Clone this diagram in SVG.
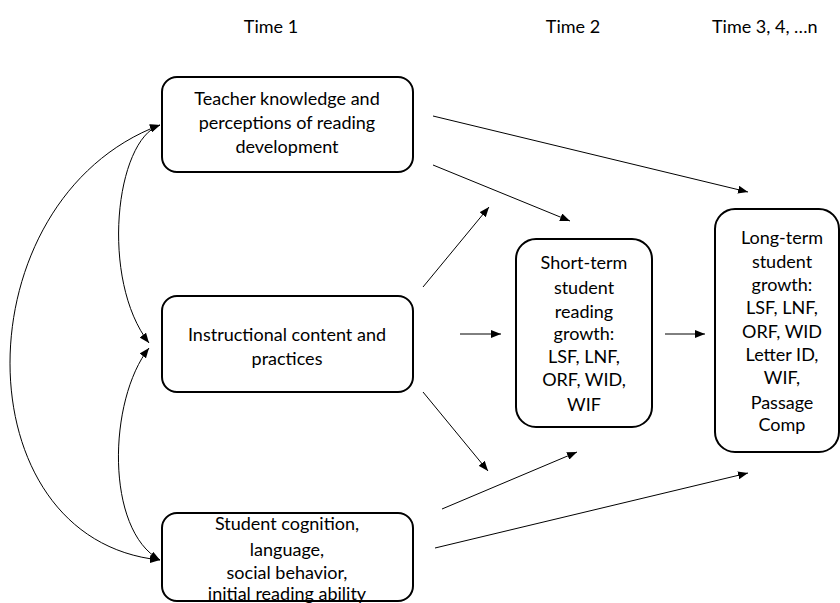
<svg xmlns="http://www.w3.org/2000/svg" width="840" height="603" viewBox="0 0 840 603">
<style>
text{font-family:"Lato","Liberation Sans",sans-serif;font-size:18px;fill:#000;text-anchor:middle}
.box{fill:#fff;stroke:#000;stroke-width:2}
.c{fill:none;stroke:#000;stroke-width:1}
</style>
<defs>
<marker id="ah" viewBox="0 0 10 8" refX="10" refY="4" markerWidth="10" markerHeight="8" markerUnits="userSpaceOnUse" orient="auto-start-reverse">
<path d="M0,0 L10,4 L0,8 z" fill="#000"/>
</marker>
</defs>
<g id="headers">
<text x="271" y="33">Time 1</text>
<text x="573" y="33">Time 2</text>
<text x="712" y="33" style="text-anchor:start">Time 3, 4, …n</text>
</g>
<g id="connectors">
<path class="c" d="M160,125 C-40,200 -40,540 160,560" marker-start="url(#ah)" marker-end="url(#ah)"/>
<path class="c" d="M160,125 C115,140 100,280 149,343" marker-start="url(#ah)" marker-end="url(#ah)"/>
<path class="c" d="M149,348 C108,400 105,530 160,560" marker-start="url(#ah)" marker-end="url(#ah)"/>
<line class="c" x1="433" y1="116" x2="748" y2="192" marker-end="url(#ah)"/>
<line class="c" x1="433" y1="165" x2="570" y2="221" marker-end="url(#ah)"/>
<line class="c" x1="423" y1="287" x2="489" y2="207" marker-end="url(#ah)"/>
<line class="c" x1="460" y1="334" x2="501" y2="334" marker-end="url(#ah)"/>
<line class="c" x1="665" y1="334" x2="705" y2="334" marker-end="url(#ah)"/>
<line class="c" x1="423" y1="392" x2="488" y2="471" marker-end="url(#ah)"/>
<line class="c" x1="442" y1="509" x2="577" y2="452" marker-end="url(#ah)"/>
<line class="c" x1="435" y1="548" x2="748" y2="473" marker-end="url(#ah)"/>
</g>
<g id="teacher">
<rect class="box" x="162" y="77" width="251" height="95" rx="15"/>
<text x="287" y="105">Teacher knowledge and</text>
<text x="287" y="129">perceptions of reading</text>
<text x="287" y="153">development</text>
</g>
<g id="instruction">
<rect class="box" x="162" y="296" width="251" height="96" rx="15"/>
<text x="287" y="341">Instructional content and</text>
<text x="287" y="365">practices</text>
</g>
<g id="student">
<rect class="box" x="162" y="513" width="251" height="88" rx="15"/>
<text x="287" y="530">Student cognition,</text>
<text x="287" y="556">language,</text>
<text x="287" y="579">social behavior,</text>
<text x="287" y="600">initial reading ability</text>
</g>
<g id="shortterm">
<rect class="box" x="516" y="239" width="136" height="188" rx="20"/>
<text x="584" y="269">Short-term</text>
<text x="584" y="294">student</text>
<text x="584" y="318">reading</text>
<text x="584" y="340">growth:</text>
<text x="584" y="363">LSF, LNF,</text>
<text x="584" y="386">ORF, WID,</text>
<text x="584" y="411">WIF</text>
</g>
<g id="longterm">
<rect class="box" x="715" y="209" width="124" height="243" rx="20"/>
<text x="782" y="244">Long-term</text>
<text x="782" y="268">student</text>
<text x="782" y="291">growth:</text>
<text x="782" y="314">LSF, LNF,</text>
<text x="782" y="338">ORF, WID</text>
<text x="782" y="361">Letter ID,</text>
<text x="782" y="384">WIF,</text>
<text x="782" y="409">Passage</text>
<text x="782" y="431">Comp</text>
</g>
</svg>
